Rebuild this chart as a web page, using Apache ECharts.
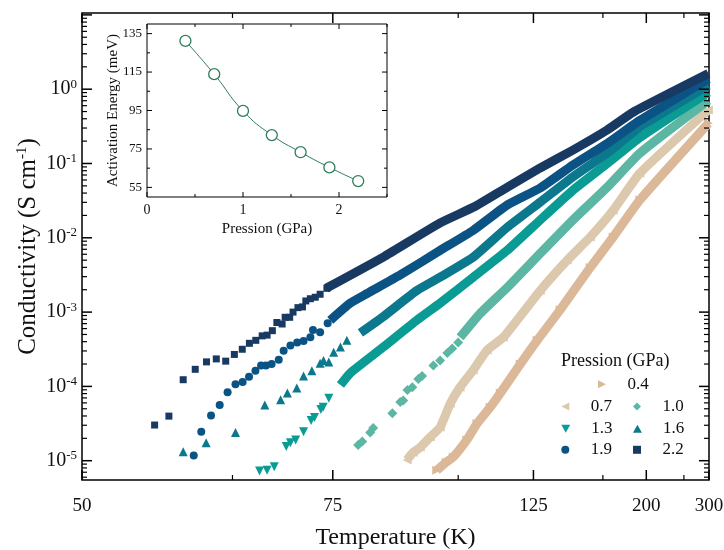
<!DOCTYPE html>
<html><head><meta charset="utf-8">
<script src="https://cdn.jsdelivr.net/npm/echarts@6/dist/echarts.min.js"></script>
<style>html,body{margin:0;padding:0;background:#fff}#c{width:724px;height:550px}</style>
</head><body><div id="c"></div>
<script>
// ---- DATA (x = 1000/T in K^-1*1000, y = log10 of conductivity in S/cm) ----
const xTickTemps = [50, 75, 125, 200, 300];
const xMinorTemps = [62.5, 100, 162.5, 250];
const yLabelExps = [-5, -4, -3, -2, -1, 0];

const p22Sparse = [[18.07,-4.52],[17.69,-4.40],[17.31,-3.91],[16.99,-3.77],[16.69,-3.67],[16.43,-3.63],[16.18,-3.66],[15.95,-3.57],[15.74,-3.50],[15.55,-3.42],[15.38,-3.38],[15.21,-3.32],[15.08,-3.31],[14.94,-3.25],[14.82,-3.14],[14.68,-3.16],[14.60,-3.07],[14.48,-3.07],[14.39,-3.00],[14.26,-2.94],[14.14,-2.93],[14.05,-2.85],[13.93,-2.82],[13.80,-2.80],[13.67,-2.76],[13.49,-2.68]];
const p22Band = [[13.51,-2.68],[11.99,-2.26],[10.48,-1.80],[9.60,-1.59],[8.70,-1.32],[7.82,-1.06],[6.95,-0.82],[6.04,-0.55],[5.35,-0.31],[3.35,0.21]];

const p19Sparse = [[17.03,-4.93],[16.83,-4.61],[16.57,-4.39],[16.34,-4.25],[16.13,-4.08],[15.92,-3.97],[15.73,-3.94],[15.56,-3.87],[15.39,-3.79],[15.24,-3.72],[15.11,-3.72],[14.96,-3.70],[14.77,-3.64],[14.64,-3.52],[14.46,-3.45],[14.28,-3.41],[14.11,-3.39],[13.93,-3.34],[13.86,-3.24],[13.67,-3.27],[13.47,-3.15]];
const p19Band = [[13.40,-3.11],[12.87,-2.88],[12.42,-2.75],[11.54,-2.50],[10.48,-2.17],[9.60,-1.90],[8.70,-1.56],[7.82,-1.33],[6.95,-1.02],[6.04,-0.73],[5.17,-0.42],[3.35,0.14]];

const p16Sparse = [[17.31,-4.88],[16.70,-4.76],[15.92,-4.62],[15.14,-4.25],[14.72,-4.18],[14.54,-4.09],[14.29,-4.02],[14.11,-3.86],[13.89,-3.79],[13.67,-3.69],[13.58,-3.65],[13.44,-3.67],[13.31,-3.54],[13.13,-3.47],[12.96,-3.38]];
const p16Band = [[12.60,-3.28],[11.99,-3.06],[11.10,-2.71],[10.48,-2.53],[9.60,-2.26],[8.70,-1.86],[7.82,-1.52],[6.95,-1.18],[6.04,-0.86],[5.17,-0.51],[3.35,0.05]];

const p13Sparse = [[15.28,-5.14],[15.08,-5.13],[14.89,-5.08],[14.57,-4.81],[14.46,-4.76],[14.32,-4.72],[14.11,-4.61],[13.91,-4.46],[13.82,-4.42],[13.65,-4.31],[13.59,-4.28],[13.44,-4.16]];
const p13Band = [[13.13,-3.98],[12.87,-3.82],[11.99,-3.47],[11.10,-3.11],[10.48,-2.88],[9.60,-2.53],[8.70,-2.17],[7.82,-1.76],[6.95,-1.36],[6.04,-1.00],[5.17,-0.65],[3.35,-0.04]];

const p10Sparse = [[12.66,-4.79],[12.55,-4.74],[12.34,-4.62],[12.26,-4.56],[11.75,-4.36],[11.54,-4.21],[11.46,-4.19],[11.35,-4.05],[11.22,-4.01],[11.06,-3.90],[10.96,-3.86],[10.66,-3.72],[10.48,-3.65],[10.29,-3.55],[10.16,-3.49],[10.00,-3.41]];
const p10Band = [[9.95,-3.34],[9.42,-3.02],[8.70,-2.67],[7.82,-2.21],[6.95,-1.76],[6.04,-1.32],[5.17,-0.86],[3.35,-0.15]];

const p07Band = [[11.36,-4.99],[11.20,-4.89],[11.01,-4.82],[10.74,-4.68],[10.48,-4.55],[10.21,-4.23],[9.95,-4.01],[9.60,-3.78],[9.23,-3.51],[8.80,-3.34],[7.82,-2.71],[7.10,-2.30],[6.49,-1.99],[5.88,-1.63],[5.17,-1.13],[3.35,-0.28]];

const p04Band = [[10.57,-5.13],[10.32,-5.02],[10.13,-4.95],[9.77,-4.72],[9.50,-4.50],[9.15,-4.28],[8.88,-4.09],[8.35,-3.70],[7.90,-3.38],[7.29,-2.97],[6.49,-2.40],[5.88,-1.99],[5.17,-1.49],[3.35,-0.46]];

// inset
const insetPressure = [0.4, 0.7, 1.0, 1.3, 1.6, 1.9, 2.2];
const insetEnergy = [131.2, 113.9, 94.8, 82.2, 73.3, 65.4, 58.3];
const insetYTicks = [55, 75, 95, 115, 135];
const insetYMinor = [65, 85, 105, 125];
const insetXTicks = [0, 1, 2];
const insetXMinor = [0.5, 1.5, 2.5];

// ---- STYLE ----
const FONT = '"Liberation Serif","Times New Roman",serif';
const BLACK = '#111';
const groups = [
  {name:'0.4', color:'#dbb898', sparse:p04Band, band:p04Band, symbol:'path://M0,0L10,5L0,10Z', size:9},
  {name:'0.7', color:'#dcc9ad', sparse:p07Band, band:p07Band, symbol:'path://M10,0L0,5L10,10Z', size:9},
  {name:'1.0', color:'#5bb6a4', sparse:p10Sparse, band:p10Band, symbol:'path://M5,0L10,5L5,10L0,5Z', size:10},
  {name:'1.3', color:'#0a9c94', sparse:p13Sparse, band:p13Band, symbol:'path://M0,0L10,0L5,9Z', size:9},
  {name:'1.6', color:'#0b788d', sparse:p16Sparse, band:p16Band, symbol:'path://M5,0L10,9L0,9Z', size:9},
  {name:'1.9', color:'#0a5384', sparse:p19Sparse, band:p19Band, symbol:'circle', size:8},
  {name:'2.2', color:'#183a62', sparse:p22Sparse, band:p22Band, symbol:'path://M0,0L10,0L10,10L0,10Z', size:7}
];
const toPt = d => [d[0], Math.pow(10, d[1])];

const xMin = 1000 / 300, xMax = 1000 / 50;
const yMin = 5.5e-6, yMax = 10.6;
const majorX = xTickTemps.map(t => 1000 / t);
const minorX = xMinorTemps.map(t => 1000 / t);
const majorYTicks = [-5,-4,-3,-2,-1,0,1].map(e => Math.pow(10, e));
const labelY = yLabelExps.map(e => Math.pow(10, e));
const minorY = [];
for (let e = -6; e <= 0; e++) for (let m = 2; m <= 9; m++) { const v = m * Math.pow(10, e); if (v > yMin && v < yMax) minorY.push(v); }

// tick marks drawn through the axes' own scales
function tickSeries(xIdx, yIdx, items) {
  return {type:'custom', xAxisIndex:xIdx, yAxisIndex:yIdx, silent:true, z:10, clip:false, data:items,
    renderItem:(params, api) => {
      const p = api.coord([api.value(0), api.value(1)]);
      const len = api.value(2), dx = api.value(3), dy = api.value(4);
      return {type:'line', shape:{x1:p[0], y1:p[1], x2:p[0] + dx * len, y2:p[1] + dy * len},
        style:{stroke:'#000', lineWidth:api.value(5)}};
    }};
}
const mainTicks = [].concat(
  majorX.map(v => [v, yMin, 10, 0, -1, 1.5]), minorX.map(v => [v, yMin, 5, 0, -1, 1.2]),
  majorX.map(v => [v, yMax, 10, 0, 1, 1.5]), minorX.map(v => [v, yMax, 5, 0, 1, 1.2]),
  majorYTicks.map(v => [xMax, v, 10, 1, 0, 1.5]), minorY.map(v => [xMax, v, 5, 1, 0, 1.2]),
  majorYTicks.map(v => [xMin, v, 10, -1, 0, 1.5]), minorY.map(v => [xMin, v, 5, -1, 0, 1.2])
);
const insetTicks = [].concat(
  insetXTicks.map(v => [v, 50, 5, 0, -1, 1]), insetXMinor.map(v => [v, 50, 3, 0, -1, 1]),
  insetXTicks.map(v => [v, 140, 5, 0, 1, 1]), insetXMinor.map(v => [v, 140, 3, 0, 1, 1]),
  insetYTicks.map(v => [0, v, 5, 1, 0, 1]), insetYMinor.map(v => [0, v, 3, 1, 0, 1]),
  insetYTicks.map(v => [2.5, v, 5, -1, 0, 1]), insetYMinor.map(v => [2.5, v, 3, -1, 0, 1])
);

const noLine = {show:false};
const xAxis = [
  {type:'value', gridIndex:0, position:'bottom', min:xMin, max:xMax, inverse:true, splitLine:noLine, axisLine:noLine, axisTick:noLine,
    axisLabel:{show:true, customValues:majorX, formatter:v => String(Math.round(1000 / v)), fontSize:19, fontFamily:FONT, color:BLACK, margin:17},
    name:'Temperature (K)', nameLocation:'middle', nameGap:46, nameTextStyle:{fontSize:24, fontFamily:FONT, color:BLACK}},
  {type:'value', gridIndex:1, position:'bottom', min:0, max:2.5, splitLine:noLine, axisLine:noLine, axisTick:noLine,
    axisLabel:{show:true, customValues:insetXTicks, fontSize:14, fontFamily:FONT, color:BLACK, margin:6},
    name:'Pression (GPa)', nameLocation:'middle', nameGap:25, nameTextStyle:{fontSize:15, fontFamily:FONT, color:BLACK}}
];
const yAxis = [
  {type:'log', gridIndex:0, position:'left', min:yMin, max:yMax, splitLine:noLine, axisLine:noLine, axisTick:noLine,
    axisLabel:{show:true, customValues:labelY, margin:5, formatter:v => '{b|10}{s|' + Math.round(Math.log10(v)) + '}',
      rich:{b:{fontSize:20, fontFamily:FONT, color:BLACK}, s:{fontSize:13, fontFamily:FONT, color:BLACK, verticalAlign:'top', padding:[0,0,10,0]}}},
    name:'Conductivity (S cm{s|-1})', nameLocation:'middle', nameRotate:90, nameGap:40, nameMoveOverlap:false,
    nameTextStyle:{fontSize:25, fontFamily:FONT, color:BLACK, rich:{s:{fontSize:15, fontFamily:FONT, color:BLACK, verticalAlign:'top', padding:[0,0,12,0]}}}},
  {type:'value', gridIndex:1, position:'left', min:50, max:140, splitLine:noLine, axisLine:noLine, axisTick:noLine,
    axisLabel:{show:true, customValues:insetYTicks, fontSize:13, fontFamily:FONT, color:BLACK, margin:5},
    name:'Activation Energy (meV)', nameLocation:'middle', nameRotate:90, nameGap:26, nameMoveOverlap:false,
    nameTextStyle:{fontSize:15, fontFamily:FONT, color:BLACK}}
];

const series = [];
groups.forEach(g => {
  series.push({type:'line', name:'band ' + g.name, xAxisIndex:0, yAxisIndex:0, data:g.band.map(toPt), symbol:'none', silent:true,
    smooth:0.15, clip:true, lineStyle:{color:g.color, width:9, cap:'butt', join:'round'}, z:2});
  series.push({type:'scatter', name:g.name, xAxisIndex:0, yAxisIndex:0, data:g.sparse.map(toPt), symbol:g.symbol, symbolSize:g.size,
    itemStyle:{color:g.color, opacity:1}, silent:true, clip:true, z:3});
});
series.push({type:'line', name:'Ea', xAxisIndex:1, yAxisIndex:1, data:insetPressure.map((p, i) => [p, insetEnergy[i]]),
  smooth:true, symbol:'circle', symbolSize:11, showSymbol:true, silent:true,
  itemStyle:{color:'#fff', borderColor:'#2f7d5b', borderWidth:1.3}, lineStyle:{color:'#2f7d5b', width:1}, z:5});
series.push(tickSeries(0, 0, mainTicks));
series.push(tickSeries(1, 1, insetTicks));

const legPos = {'0.4':[601.7,382.7], '0.7':[565,405], '1.0':[636.7,405], '1.3':[565,427.3], '1.6':[636.7,427.3], '1.9':[565,448.3], '2.2':[636.7,448.3]};
const legend = Object.keys(legPos).map(n => ({
  data:[n], left:legPos[n][0] - 3.7, top:legPos[n][1] - 7, padding:0, itemWidth:41, itemHeight:8,
  selectedMode:false, textStyle:{fontSize:17, fontFamily:FONT, color:BLACK}
}));

const chart = echarts.init(document.getElementById('c'), null, {renderer:'canvas'});
chart.setOption({
  animation:false,
  backgroundColor:'#fff',
  title:{text:'Pression (GPa)', left:561, top:352, padding:0, textStyle:{fontSize:18, fontWeight:'normal', fontFamily:FONT, color:BLACK}},
  legend:legend,
  grid:[
    {left:82, right:15, top:13, bottom:70, outerBoundsMode:'none', containLabel:false, show:true, borderColor:'#000', borderWidth:1.5, backgroundColor:'transparent'},
    {left:147, top:24, width:240, height:173, outerBoundsMode:'none', containLabel:false, show:true, borderColor:'#000', borderWidth:1, backgroundColor:'#fff'}
  ],
  xAxis:xAxis,
  yAxis:yAxis,
  series:series
});
</script></body></html>
